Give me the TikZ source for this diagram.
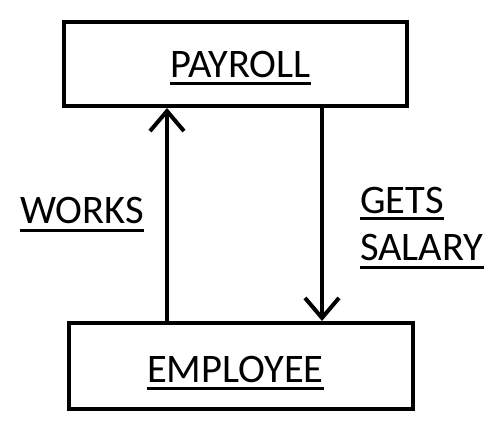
\documentclass[tikz,border=0pt]{standalone}
\usepackage{fontspec}
\setmainfont{Carlito}
\usetikzlibrary{arrows.meta}
\begin{document}
\begin{tikzpicture}[x=1pt,y=-1pt,
  entity/.style={draw, line width=4pt, rectangle, inner sep=0pt},
  lbl/.style={inner sep=0pt, font=\fontsize{40.5}{44}\selectfont},
  ul/.style={line width=3pt},
  conn/.style={line width=4pt, -{Straight Barb[length=20pt, width=34pt, line width=4pt]}}]
\useasboundingbox (0,0) rectangle (499,429);
\node[entity, minimum width=343pt, minimum height=84pt] (payroll) at (235.5,64) {};
\node[entity, minimum width=344pt, minimum height=86pt] (employee) at (241,366) {};
\node[lbl, anchor=base west] (tpay) at (170,77) {PAYROLL};
\node[lbl, anchor=base west] (temp) at (147,382) {EMPLOYEE};
\node[lbl, anchor=base west] (works) at (20,223) {WORKS};
\node[lbl, anchor=base west] (gets) at (360,213) {GETS};
\node[lbl, anchor=base west] (salary) at (360,260) {SALARY};
\foreach \n/\d in {tpay/6, temp/6, works/7, gets/5, salary/7}
  \draw[ul] ([yshift=-\d pt]\n.base west) -- ([yshift=-\d pt]\n.base east);
\coordinate (lx) at (167,0);
\coordinate (rx) at (322,0);
\draw[conn] (employee.north -| lx) -- (payroll.south -| lx);
\draw[conn] (payroll.south -| rx) -- (employee.north -| rx);
\end{tikzpicture}
\end{document}
